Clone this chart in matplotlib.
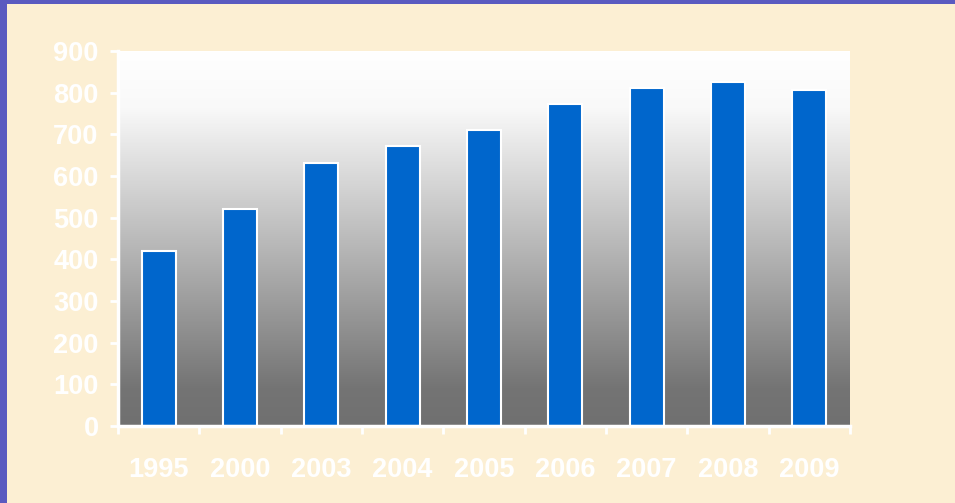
import matplotlib.pyplot as plt
import numpy as np
from matplotlib.patches import Rectangle
from matplotlib.colors import LinearSegmentedColormap

# 数据
years = ["1995", "2000", "2003", "2004", "2005", "2006", "2007", "2008", "2009"]
values = [420, 522, 632, 673, 711, 773, 811, 826, 807]
y_ticks = [0, 100, 200, 300, 400, 500, 600, 700, 800, 900]

bg_color = "#fcefd3"
border_color = "#5a5ac0"
bar_color = "#0066cc"

plt.rcParams["font.family"] = ["Liberation Sans", "DejaVu Sans"]

fig = plt.figure(figsize=(9.55, 5.03), dpi=100, facecolor=bg_color)

# 紫色边框
fig.patches.append(Rectangle((0, 0), 7 / 955, 1, transform=fig.transFigure,
                             facecolor=border_color, edgecolor="none", zorder=0))
fig.patches.append(Rectangle((0, 1 - 4 / 503), 1, 4 / 503, transform=fig.transFigure,
                             facecolor=border_color, edgecolor="none", zorder=0))

ax = fig.add_axes([118 / 955, 1 - 426 / 503, (850 - 118) / 955, (426 - 51) / 503])
ax.set_xlim(-0.5, len(years) - 0.5)
ax.set_ylim(0, 900)

# 渐变背景（底部灰 -> 顶部白）
cmap = LinearSegmentedColormap.from_list(
    "grad", [(0.0, "#707070"), (0.1, "#747474"), (0.85, "#f9f9f9"), (1.0, "#ffffff")])
grad = np.linspace(0, 1, 256).reshape(-1, 1)
ax.imshow(grad, aspect="auto", cmap=cmap, origin="lower",
          extent=[-0.5, len(years) - 0.5, 0, 900], zorder=0)

x = np.arange(len(years))
ax.bar(x, values, width=0.42, color=bar_color, edgecolor="white", linewidth=1.5, zorder=2)

for s in ["top", "right"]:
    ax.spines[s].set_visible(False)
for s in ["left", "bottom"]:
    ax.spines[s].set_color("white")
    ax.spines[s].set_linewidth(2.5)
    ax.spines[s].set_zorder(3)

ax.set_yticks(y_ticks)
ax.set_yticklabels([str(v) for v in y_ticks])
ax.tick_params(axis="y", colors="white", length=6, width=2, pad=8,
               labelsize=19.5)
for lbl in ax.get_yticklabels():
    lbl.set_fontweight("bold")

ax.set_xticks(x)
ax.set_xticklabels(years)
ax.set_xticks(np.arange(-0.5, len(years)), minor=True)
ax.tick_params(axis="x", which="major", length=0, pad=22, colors="white",
               labelsize=19.5)
ax.tick_params(axis="x", which="minor", length=6, width=2, color="white")
for lbl in ax.get_xticklabels():
    lbl.set_fontweight("bold")

fig.savefig("out.png", dpi=100, facecolor=bg_color)
